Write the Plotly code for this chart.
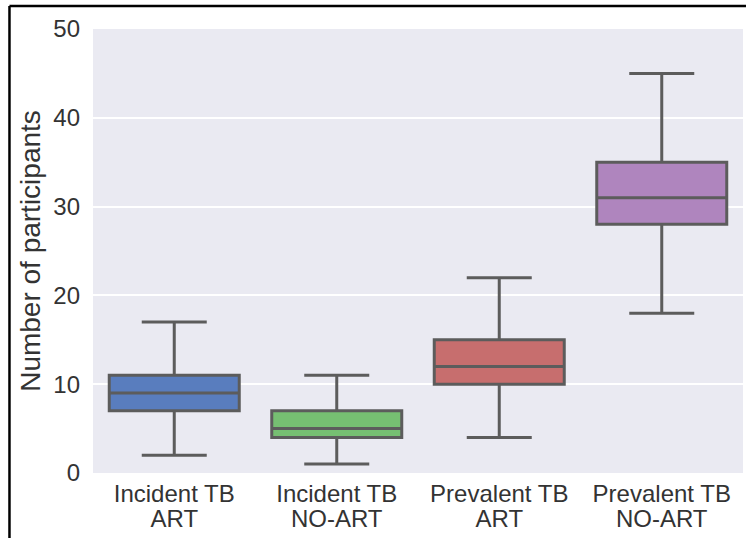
import plotly.graph_objects as go

categories = ["Incident TB", "Incident TB", "Prevalent TB", "Prevalent TB"]
subcategories = ["ART", "NO-ART", "ART", "NO-ART"]
lower_whisker = [2, 1, 4, 18]
q1_values = [7, 4, 10, 28]
medians = [9, 5, 12, 31]
q3_values = [11, 7, 15, 35]
upper_whisker = [17, 11, 22, 45]
colors = ["#597DBE", "#76BF72", "#C76E6E", "#AF85BE"]
y_ticks = [0, 10, 20, 30, 40, 50]

positions = list(range(len(categories)))

fig = go.Figure()
for i in positions:
    fig.add_trace(go.Box(
        x=[positions[i]],
        q1=[q1_values[i]],
        median=[medians[i]],
        q3=[q3_values[i]],
        lowerfence=[lower_whisker[i]],
        upperfence=[upper_whisker[i]],
        fillcolor=colors[i],
        line=dict(color="#5c5c5c", width=3),
        whiskerwidth=0.5,
        width=0.8,
        boxpoints=False,
        showlegend=False,
        name=categories[i] + " " + subcategories[i],
        hoverinfo="y",
    ))

font_family = "Liberation Sans, Arial, sans-serif"
tick_font = dict(size=24, color="#333333", family=font_family)
fig.update_layout(
    width=749, height=538,
    margin=dict(l=93, r=6, t=29, b=65),
    paper_bgcolor="white",
    plot_bgcolor="#EAEAF2",
    boxmode="overlay",
    font=dict(family=font_family, color="#333333", size=24),
    xaxis=dict(
        range=[-0.5, len(categories) - 0.5],
        tickvals=positions,
        ticktext=categories,
        showgrid=False,
        zeroline=False,
        showline=False,
        ticks="",
        tickfont=tick_font,
        ticklabelstandoff=4,
        automargin=False,
    ),
    xaxis2=dict(
        overlaying="x",
        side="bottom",
        anchor="y",
        range=[-0.5, len(categories) - 0.5],
        tickvals=positions,
        ticktext=subcategories,
        showgrid=False,
        zeroline=False,
        showline=False,
        ticks="",
        tickfont=tick_font,
        ticklabelstandoff=29,
        automargin=False,
    ),
    yaxis=dict(
        range=[0, 50],
        tickvals=y_ticks,
        showgrid=True,
        gridcolor="white",
        gridwidth=1.5,
        zeroline=False,
        showline=False,
        ticks="",
        tickfont=tick_font,
        ticklabelstandoff=12,
        automargin=False,
        title=dict(text="Number of participants", font=dict(size=28, color="#333333"), standoff=4),
    ),
    shapes=[
        dict(type="line", xref="paper", yref="paper",
             x0=-0.1285, x1=1.0046, y0=1.0518, y1=1.0518,
             line=dict(color="black", width=2.5)),
        dict(type="line", xref="paper", yref="paper",
             x0=-0.1285, x1=-0.1285, y0=1.0518, y1=-0.2,
             line=dict(color="black", width=2.5)),
    ],
)
# invisible trace so the second (sub-label) x axis is rendered
fig.add_trace(go.Scatter(x=[positions[0]], y=[lower_whisker[0]], xaxis="x2", mode="markers",
                         marker=dict(opacity=0), showlegend=False, hoverinfo="skip"))

fig.write_html("out.html",
               config={"displayModeBar": False},
               post_script="document.body.style.margin='0';document.body.style.overflow='hidden';")
